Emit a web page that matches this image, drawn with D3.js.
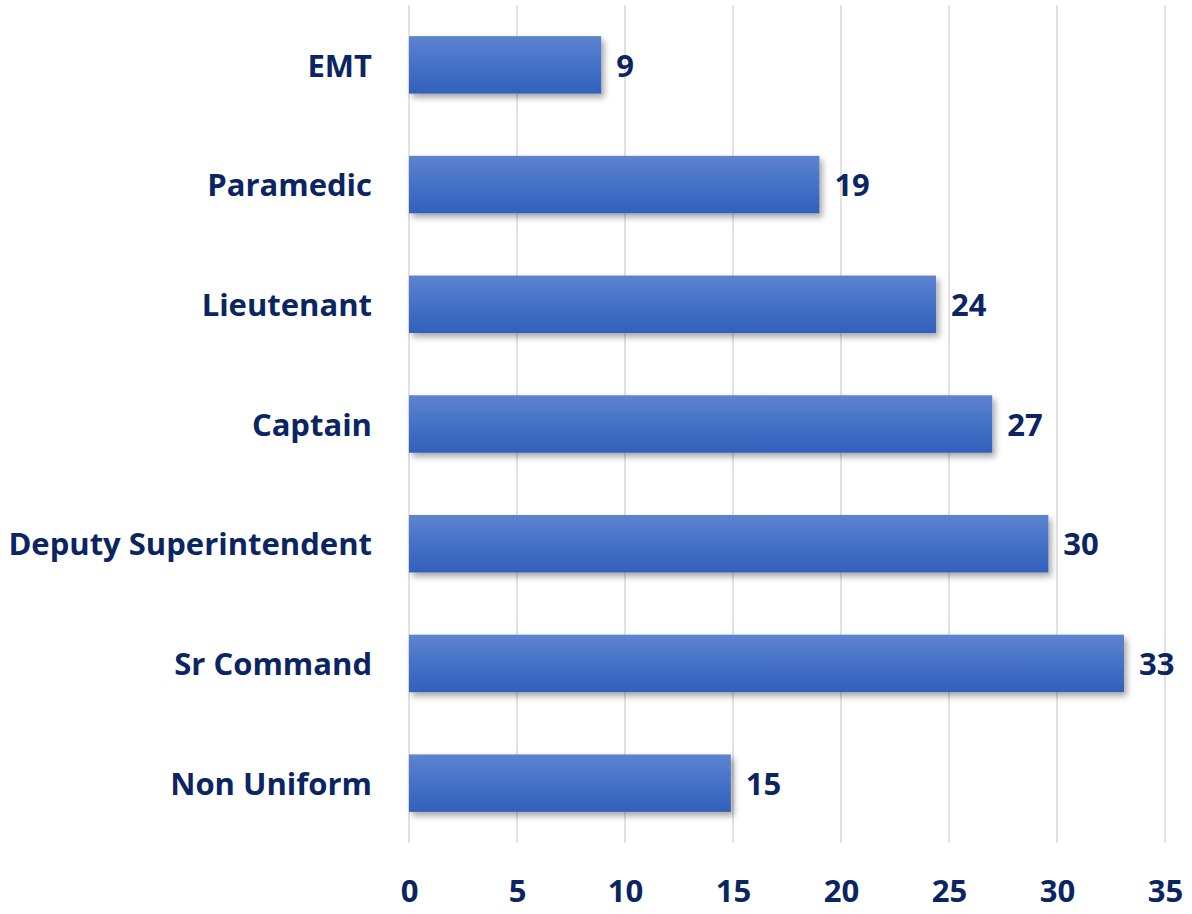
<!DOCTYPE html>
<html>
<head>
<meta charset="utf-8">
<script src="https://cdn.jsdelivr.net/npm/d3@7"></script>
<style>
  html, body { margin: 0; padding: 0; background: #fff; }
  svg { display: block; }
</style>
</head>
<body>
<svg id="chart" width="1192" height="914"></svg>
<script>
const categories = ["EMT", "Paramedic", "Lieutenant", "Captain", "Deputy Superintendent", "Sr Command", "Non Uniform"];
const values = [8.9, 19.0, 24.4, 27.0, 29.6, 33.1, 14.9];
const xTicks = [0, 5, 10, 15, 20, 25, 30, 35];

const svg = d3.select("#chart");
const textColor = "#0b2563";
const fontFamily = "'Open Sans', sans-serif";

const x = d3.scaleLinear().domain([0, 35]).range([409, 1165]);
const y = d3.scaleBand().domain(categories).range([5, 843]).paddingInner(0.52).paddingOuter(0.26);

const defs = svg.append("defs");
const grad = defs.append("linearGradient").attr("id", "barGrad").attr("x1", 0).attr("y1", 0).attr("x2", 0).attr("y2", 1);
grad.append("stop").attr("offset", "0%").attr("stop-color", "#5e83d0");
grad.append("stop").attr("offset", "50%").attr("stop-color", "#4472c6");
grad.append("stop").attr("offset", "100%").attr("stop-color", "#3260bb");
const filt = defs.append("filter").attr("id", "shadow").attr("x", "-10%").attr("y", "-20%").attr("width", "130%").attr("height", "160%");
filt.append("feDropShadow").attr("dx", 3).attr("dy", 4).attr("stdDeviation", 3).attr("flood-color", "#000").attr("flood-opacity", 0.35);

// gridlines
svg.append("g").selectAll("line").data(xTicks).join("line")
  .attr("x1", d => x(d)).attr("x2", d => x(d))
  .attr("y1", 5).attr("y2", 843)
  .attr("stroke", "#d9d9d9").attr("stroke-width", 1.5);

// x axis labels
const xAxis = d3.axisBottom(x).tickValues(xTicks).tickSize(0).tickPadding(0);
const gx = svg.append("g").attr("transform", "translate(0,891)").call(xAxis);
gx.select(".domain").remove();
gx.selectAll("text")
  .attr("dy", "0.35em").attr("y", 0)
  .attr("fill", textColor).style("font-family", fontFamily)
  .style("font-weight", "bold").style("font-size", "31px");

// y axis labels
const yAxis = d3.axisLeft(y).tickSize(0).tickPadding(0);
const gy = svg.append("g").attr("transform", "translate(372,0)").call(yAxis);
gy.select(".domain").remove();
gy.selectAll("text")
  .attr("dy", "0.38em")
  .attr("fill", textColor).style("font-family", fontFamily)
  .style("font-weight", "bold").style("font-size", "31px");

// bars
const data = categories.map((c, i) => ({ c, v: values[i] }));
svg.append("g").selectAll("rect").data(data).join("rect")
  .attr("x", x(0)).attr("y", d => y(d.c))
  .attr("width", d => x(d.v) - x(0)).attr("height", y.bandwidth())
  .attr("fill", "url(#barGrad)").attr("filter", "url(#shadow)");

// value labels
const fmt = d3.format(".0f");
svg.append("g").selectAll("text").data(data).join("text")
  .attr("x", d => x(d.v) + 15).attr("y", d => y(d.c) + y.bandwidth() / 2)
  .attr("dy", "0.38em")
  .attr("fill", textColor).style("font-family", fontFamily)
  .style("font-weight", "bold").style("font-size", "31px")
  .text(d => fmt(d.v));
</script>
</body>
</html>
